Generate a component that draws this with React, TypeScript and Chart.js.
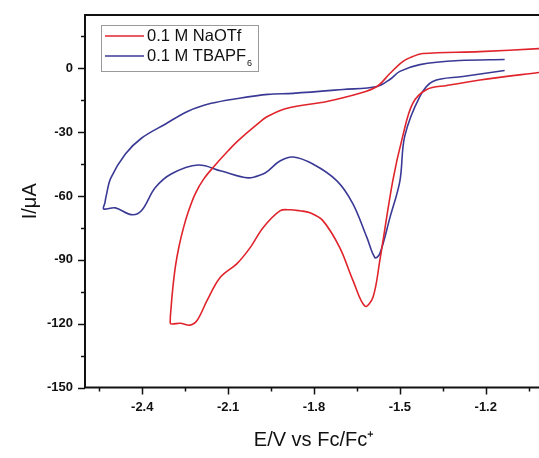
import React, { useEffect, useRef } from "react";
import { Chart, registerables } from "chart.js";

Chart.register(...registerables);

// NaOTf (red) CV loop: potential (V vs Fc/Fc+) and current (µA)
const naotfE = [
  -1.0, -1.015, -1.22, -1.336, -1.406, -1.455, -1.49, -1.525, -1.57, -1.594, -1.622, -1.664, -1.71,
  -1.769, -1.814, -1.849, -1.884, -1.919, -1.978, -2.023, -2.069, -2.128, -2.173, -2.208, -2.233,
  -2.267, -2.295, -2.302, -2.299, -2.293, -2.284, -2.272, -2.256, -2.238, -2.215, -2.185, -2.145,
  -2.1, -2.065, -2.0, -1.961, -1.894, -1.755, -1.64, -1.58, -1.535, -1.49, -1.455, -1.42, -1.221,
  -1.015, -1.0,
];
const naotfI = [
  -1.8, -2.0, -5.5, -8.1, -10.0, -16.5, -31.9, -53.0, -90.3, -107.6, -111.8, -99.7, -84.3,
  -71.6, -67.9, -67.0, -66.5, -67.0, -74.9, -84.3, -91.8, -98.3, -109.0, -118.4, -120.7,
  -119.8, -120.2, -119.8, -112.0, -103.0, -93.0, -84.0, -75.0, -67.0, -59.0, -52.0, -45.5,
  -38.8, -34.0, -26.5, -22.6, -18.8, -15.6, -11.8, -8.6, -2.5, 3.1, 5.5, 6.9, 7.8,
  9.2, 9.3,
];

// TBAPF6 (blue) CV loop
const tbapfE = [
  -1.134, -1.28, -1.385, -1.43, -1.483, -1.5, -1.535, -1.57, -1.587, -1.615, -1.664, -1.72,
  -1.804, -1.873, -1.919, -1.961, -1.978, -2.03, -2.124, -2.205, -2.299, -2.355, -2.403,
  -2.438, -2.494, -2.535, -2.531, -2.526, -2.51, -2.459, -2.403, -2.32, -2.24, -2.159,
  -2.065, -1.961, -1.873, -1.699, -1.58, -1.535, -1.5, -1.43, -1.291, -1.134,
];
const tbapfI = [
  -1.1, -3.9, -6.2, -13.2, -31.9, -53.0, -70.3, -87.1, -89.0, -79.6, -63.7, -52.9,
  -45.0, -41.7, -43.6, -48.3, -49.7, -51.5, -48.3, -45.5, -49.7, -56.2, -67.0,
  -68.8, -65.6, -66.1, -63.5, -60.0, -51.6, -40.3, -32.9, -26.3, -20.2, -16.5,
  -14.2, -12.3, -11.8, -10.0, -8.6, -5.3, -1.5, 1.7, 3.6, 4.1,
];

const xMajor = [-2.4, -2.1, -1.8, -1.5, -1.2];
const xMinor = [-2.55, -2.25, -1.95, -1.65, -1.35, -1.05];
const yMajor = [-150, -120, -90, -60, -30, 0];
const yMinor = [-135, -105, -75, -45, -15, 15];

const seriesNames = ["0.1 M NaOTf", "0.1 M TBAPF"];
const seriesColors = ["#e0242c", "#3a3a96"];

const FONT = "'Liberation Sans', Arial, sans-serif";

export default function App() {
  const ref = useRef<HTMLCanvasElement | null>(null);

  useEffect(() => {
    if (!ref.current) return;
    const toPts = (xs: number[], ys: number[]) => xs.map((x, i) => ({ x, y: ys[i] }));

    const framePlugin = {
      id: "frame",
      afterDatasetsDraw(chart: any) {
        const { ctx, chartArea } = chart;
        const { left, right, top, bottom } = chartArea;
        const xs = chart.scales.x;
        const ys = chart.scales.y;
        ctx.save();
        ctx.strokeStyle = "#111";
        ctx.lineWidth = 2;
        ctx.strokeRect(left, top, right - left, bottom - top);
        ctx.lineWidth = 1.5;
        ctx.beginPath();
        xMajor.forEach((v) => {
          const p = Math.round(xs.getPixelForValue(v)) + 0.5;
          ctx.moveTo(p, bottom);
          ctx.lineTo(p, bottom + 7);
        });
        xMinor.forEach((v) => {
          const p = Math.round(xs.getPixelForValue(v)) + 0.5;
          ctx.moveTo(p, bottom);
          ctx.lineTo(p, bottom + 4);
        });
        yMajor.forEach((v) => {
          const p = Math.round(ys.getPixelForValue(v)) + 0.5;
          ctx.moveTo(left, p);
          ctx.lineTo(left - 7, p);
        });
        yMinor.forEach((v) => {
          const p = Math.round(ys.getPixelForValue(v)) + 0.5;
          ctx.moveTo(left, p);
          ctx.lineTo(left - 4, p);
        });
        ctx.stroke();

        // legend
        const lx = 101, ly = 25, lw = 157, lh = 46;
        ctx.fillStyle = "#fff";
        ctx.fillRect(lx, ly, lw, lh);
        ctx.strokeStyle = "#9a9a9a";
        ctx.lineWidth = 1;
        ctx.strokeRect(lx + 0.5, ly + 0.5, lw, lh);
        const rows = [36, 56];
        ctx.textBaseline = "middle";
        ctx.textAlign = "left";
        rows.forEach((y, i) => {
          ctx.strokeStyle = seriesColors[i];
          ctx.lineWidth = 1.5;
          ctx.beginPath();
          ctx.moveTo(105, y);
          ctx.lineTo(144, y);
          ctx.stroke();
          ctx.fillStyle = "#111";
          ctx.font = `16.5px ${FONT}`;
          ctx.fillText(seriesNames[i], 147, y);
          if (i === 1) {
            const w = ctx.measureText(seriesNames[i]).width;
            ctx.font = `9px ${FONT}`;
            ctx.fillText("6", 147 + w + 1, y + 8);
          }
        });
        ctx.restore();
      },
    };

    const chart = new Chart(ref.current, {
      type: "scatter",
      data: {
        datasets: [
          {
            label: seriesNames[0],
            data: toPts(naotfE, naotfI),
            showLine: true,
            borderColor: seriesColors[0],
            borderWidth: 1.6,
            pointRadius: 0,
            tension: 0.35,
            fill: false,
          },
          {
            label: seriesNames[1] + "6",
            data: toPts(tbapfE, tbapfI),
            showLine: true,
            borderColor: seriesColors[1],
            borderWidth: 1.6,
            pointRadius: 0,
            tension: 0.35,
            fill: false,
          },
        ],
      },
      options: {
        responsive: false,
        animation: false,
        devicePixelRatio: 1,
        layout: { padding: { top: 15, right: 17, bottom: 0, left: 0 } },
        plugins: { legend: { display: false }, tooltip: { enabled: false } },
        scales: {
          x: {
            type: "linear",
            min: -2.6,
            max: -1.0,
            afterBuildTicks: (s: any) => {
              s.ticks = xMajor.map((v) => ({ value: v }));
            },
            afterFit: (s: any) => {
              s.height = 70.5;
              s.paddingLeft = 0;
              s.paddingRight = 0;
            },
            grid: { display: false, drawTicks: false },
            border: { display: false },
            ticks: {
              padding: 12,
              color: "#111",
              font: { family: FONT, size: 13, weight: "bold" },
              callback: (v: any) => Number(v).toFixed(1),
              maxRotation: 0,
            },
            title: {
              display: true,
              text: "E/V vs Fc/Fc⁺",
              color: "#111",
              font: { family: FONT, size: 20 },
              padding: { top: 0, bottom: 6 },
            },
          },
          y: {
            type: "linear",
            min: -150,
            max: 25,
            afterBuildTicks: (s: any) => {
              s.ticks = yMajor.map((v) => ({ value: v }));
            },
            afterFit: (s: any) => {
              s.width = 85;
              s.paddingTop = 0;
              s.paddingBottom = 0;
            },
            grid: { display: false, drawTicks: false },
            border: { display: false },
            ticks: {
              padding: 12,
              color: "#111",
              font: { family: FONT, size: 13, weight: "bold" },
            },
            title: {
              display: true,
              text: "I/μA",
              color: "#111",
              font: { family: FONT, size: 20 },
              padding: { top: 18, bottom: 0 },
            },
          },
        },
      },
      plugins: [framePlugin],
    } as any);
    return () => chart.destroy();
  }, []);

  return (
    <div
      style={{
        position: "fixed",
        left: 0,
        top: 0,
        width: 539,
        height: 458,
        overflow: "hidden",
        background: "#fff",
      }}
    >
      <canvas ref={ref} width={560} height={458} style={{ width: 560, height: 458 }} />
    </div>
  );
}
